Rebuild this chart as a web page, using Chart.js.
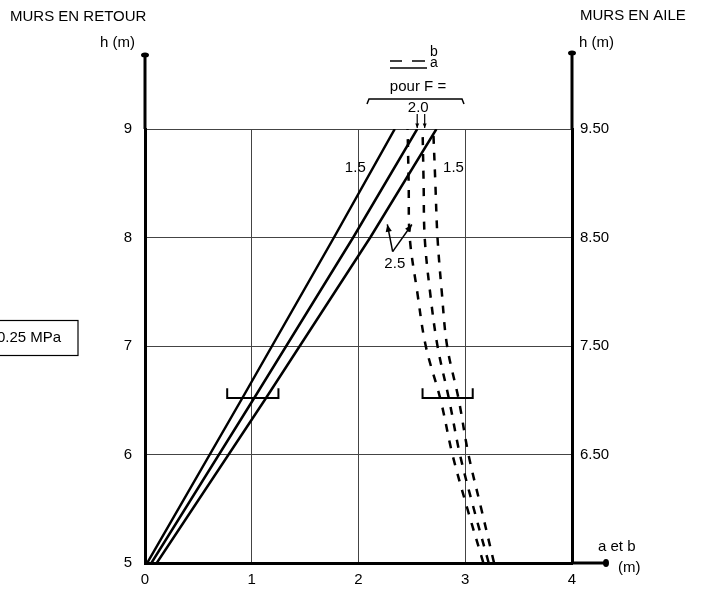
<!DOCTYPE html>
<html>
<head>
<meta charset="utf-8">
<script src="https://cdn.jsdelivr.net/npm/chart.js@4"></script>
<style>
  html, body { margin: 0; padding: 0; background: #fff; }
  #wrap { width: 707px; height: 590px; position: relative; }
</style>
</head>
<body>
<div id="wrap"><canvas id="chart"></canvas></div>
<script>
// Heights h (m) where the curves were read
const H_SOLID = [5, 6.5, 8, 9];
// a (m), solid curves, for F = 1.5 / 2.0 / 2.5
const A_F15 = [0.02, 0.90, 1.77, 2.34];
const A_F20 = [0.06, 1.01, 1.95, 2.55];
const A_F25 = [0.11, 1.12, 2.11, 2.73];

const H_DASH = [5, 5.5, 6, 6.5, 7, 7.5, 8, 8.5, 9];
// b (m), dashed curves, for F = 2.5 / 2.0 / 1.5
const B_F25 = [3.17, 3.02, 2.88, 2.77, 2.63, 2.55, 2.48, 2.47, 2.46];
const B_F20 = [3.22, 3.08, 2.95, 2.85, 2.74, 2.67, 2.62, 2.61, 2.60];
const B_F15 = [3.27, 3.15, 3.03, 2.94, 2.83, 2.78, 2.74, 2.72, 2.70];

// Ticks
const X_TICKS = [0, 1, 2, 3, 4];
const H_TICKS = [5, 6, 7, 8, 9];
const H_TICKS_RIGHT = [6, 7, 8, 9];
const RIGHT_OFFSET = 0.5; // murs en aile = murs en retour + 0.50

// Range brackets at h ~ 6.5
const BRACKET_H = 6.52;
const BRACKET_TICK = 0.09;
const BRACKET_A = [0.77, 1.25];
const BRACKET_B = [2.60, 3.07];

const FONT = '"Liberation Sans", Arial, sans-serif';

function toPoints(xs, hs) {
    return xs.map((v, i) => ({ x: v, y: hs[i] }));
}

function bracketPoints(range) {
    return [
        { x: range[0], y: BRACKET_H + BRACKET_TICK },
        { x: range[0], y: BRACKET_H },
        { x: range[1], y: BRACKET_H },
        { x: range[1], y: BRACKET_H + BRACKET_TICK }
    ];
}

function solidSet(label, xs) {
    return { label, data: toPoints(xs, H_SOLID), borderColor: '#000', borderWidth: 2.5, tension: 0 };
}

function dashedSet(label, xs) {
    return { label, data: toPoints(xs, H_DASH), borderColor: '#000', borderWidth: 2.5, borderDash: [8, 9], tension: 0.35 };
}

function bracketSet(label, range) {
    return { label, data: bracketPoints(range), borderColor: '#000', borderWidth: 2, tension: 0 };
}

// Helpers for the drawn annotations
function line(ctx, x1, y1, x2, y2) {
    ctx.beginPath();
    ctx.moveTo(x1, y1);
    ctx.lineTo(x2, y2);
    ctx.stroke();
}

function arrow(ctx, x1, y1, x2, y2, size) {
    line(ctx, x1, y1, x2, y2);
    const ang = Math.atan2(y2 - y1, x2 - x1);
    ctx.beginPath();
    ctx.moveTo(x2, y2);
    ctx.lineTo(x2 - size * Math.cos(ang - 0.4), y2 - size * Math.sin(ang - 0.4));
    ctx.lineTo(x2 - size * Math.cos(ang + 0.4), y2 - size * Math.sin(ang + 0.4));
    ctx.closePath();
    ctx.fill();
}

function text(ctx, str, x, y, align) {
    ctx.textAlign = align || 'center';
    ctx.fillText(str, x, y);
}

const decorations = {
    id: 'decorations',
    afterDraw(chart) {
        const { ctx, chartArea: a, scales } = chart;
        const px = v => scales.x.getPixelForValue(v);
        const py = v => scales.y.getPixelForValue(v);
        ctx.save();
        ctx.strokeStyle = '#000';
        ctx.fillStyle = '#000';

        // axis extensions with end dots
        ctx.lineWidth = 3;
        line(ctx, a.left, a.top, a.left, 56);
        line(ctx, a.right, a.top, a.right, 54);
        line(ctx, a.right, a.bottom, 604, a.bottom);
        ctx.beginPath(); ctx.ellipse(a.left, 55, 4, 2.5, 0, 0, Math.PI * 2); ctx.fill();
        ctx.beginPath(); ctx.ellipse(a.right, 53, 4, 2.5, 0, 0, Math.PI * 2); ctx.fill();
        ctx.beginPath(); ctx.ellipse(606, a.bottom, 3, 4, 0, 0, Math.PI * 2); ctx.fill();

        ctx.font = '15px ' + FONT;
        ctx.textBaseline = 'middle';
        text(ctx, 'MURS EN RETOUR', 10, 17, 'left');
        text(ctx, 'h (m)', 100, 43, 'left');
        text(ctx, 'MURS EN AILE', 580, 16, 'left');
        text(ctx, 'h (m)', 579, 43, 'left');
        text(ctx, 'a et b', 598, 547, 'left');
        text(ctx, '(m)', 618, 568, 'left');

        // legend b / a
        ctx.lineWidth = 1.5;
        line(ctx, 390, 61, 402, 61);
        line(ctx, 412, 61, 425, 61);
        line(ctx, 390, 68, 427, 68);
        ctx.font = '14px ' + FONT;
        text(ctx, 'b', 430, 52, 'left');
        text(ctx, 'a', 430, 63, 'left');

        // "pour F =" with brace
        ctx.font = '15px ' + FONT;
        text(ctx, 'pour F =', 418, 87);
        ctx.lineWidth = 1.5;
        ctx.beginPath();
        ctx.moveTo(367, 104);
        ctx.lineTo(369, 99);
        ctx.lineTo(462, 99);
        ctx.lineTo(464, 104);
        ctx.stroke();

        // curve labels
        text(ctx, '2.0', px(2.56), 108);
        ctx.lineWidth = 1.2;
        arrow(ctx, px(2.55), 114, px(2.55), py(9) - 1, 5);
        arrow(ctx, px(2.62), 114, px(2.62), py(9) - 1, 5);
        text(ctx, '1.5', px(1.97), py(8.64));
        text(ctx, '1.5', px(2.89), py(8.64));
        text(ctx, '2.5', px(2.34), py(7.76));
        ctx.lineWidth = 1.5;
        arrow(ctx, px(2.32), py(7.87), px(2.27), py(8.12), 8);
        arrow(ctx, px(2.32), py(7.87), px(2.50), py(8.12), 8);

        // pressure box, cut by the page edge
        ctx.lineWidth = 1.2;
        ctx.strokeRect(-10, 320.5, 88, 35);
        text(ctx, '0.25 MPa', -3, 338, 'left');
        ctx.restore();
    }
};

const chartConfig = {
    type: 'scatter',
    data: {
        datasets: [
            solidSet('a F=1.5', A_F15),
            solidSet('a F=2.0', A_F20),
            solidSet('a F=2.5', A_F25),
            dashedSet('b F=2.5', B_F25),
            dashedSet('b F=2.0', B_F20),
            dashedSet('b F=1.5', B_F15),
            bracketSet('plage a', BRACKET_A),
            bracketSet('plage b', BRACKET_B)
        ]
    },
    options: {
        responsive: true,
        maintainAspectRatio: false,
        animation: false,
        showLine: true,
        layout: { padding: { top: 129, left: 0, right: 0, bottom: 0 } },
        elements: { point: { radius: 0, hoverRadius: 0 } },
        plugins: { legend: { display: false }, tooltip: { enabled: false } },
        scales: {
            x: {
                type: 'linear',
                min: 0,
                max: 4,
                afterBuildTicks: s => { s.ticks = X_TICKS.map(v => ({ value: v })); },
                afterFit: s => { s.height = 27; },
                ticks: { color: '#000', font: { family: FONT, size: 15 }, padding: 8 },
                grid: { color: '#444', lineWidth: 1, drawTicks: false },
                border: { color: '#000', width: 3 }
            },
            y: {
                type: 'linear',
                position: 'left',
                min: 5,
                max: 9,
                afterBuildTicks: s => { s.ticks = H_TICKS.map(v => ({ value: v })); },
                afterFit: s => { s.width = 145; },
                ticks: { color: '#000', font: { family: FONT, size: 15 }, padding: 13 },
                grid: { color: '#444', lineWidth: 1, drawTicks: false },
                border: { color: '#000', width: 3 }
            },
            y2: {
                type: 'linear',
                position: 'right',
                min: 5,
                max: 9,
                afterBuildTicks: s => { s.ticks = H_TICKS_RIGHT.map(v => ({ value: v })); },
                afterFit: s => { s.width = 135; },
                ticks: {
                    color: '#000',
                    font: { family: FONT, size: 15 },
                    padding: 8,
                    callback: v => (v + RIGHT_OFFSET).toFixed(2)
                },
                grid: { display: false, drawTicks: false },
                border: { color: '#000', width: 3 }
            }
        }
    },
    plugins: [decorations]
};

window.onload = function () {
    const ctx = document.getElementById('chart').getContext('2d');
    // @ts-ignore
    new Chart(ctx, chartConfig);
};
</script>
</body>
</html>
